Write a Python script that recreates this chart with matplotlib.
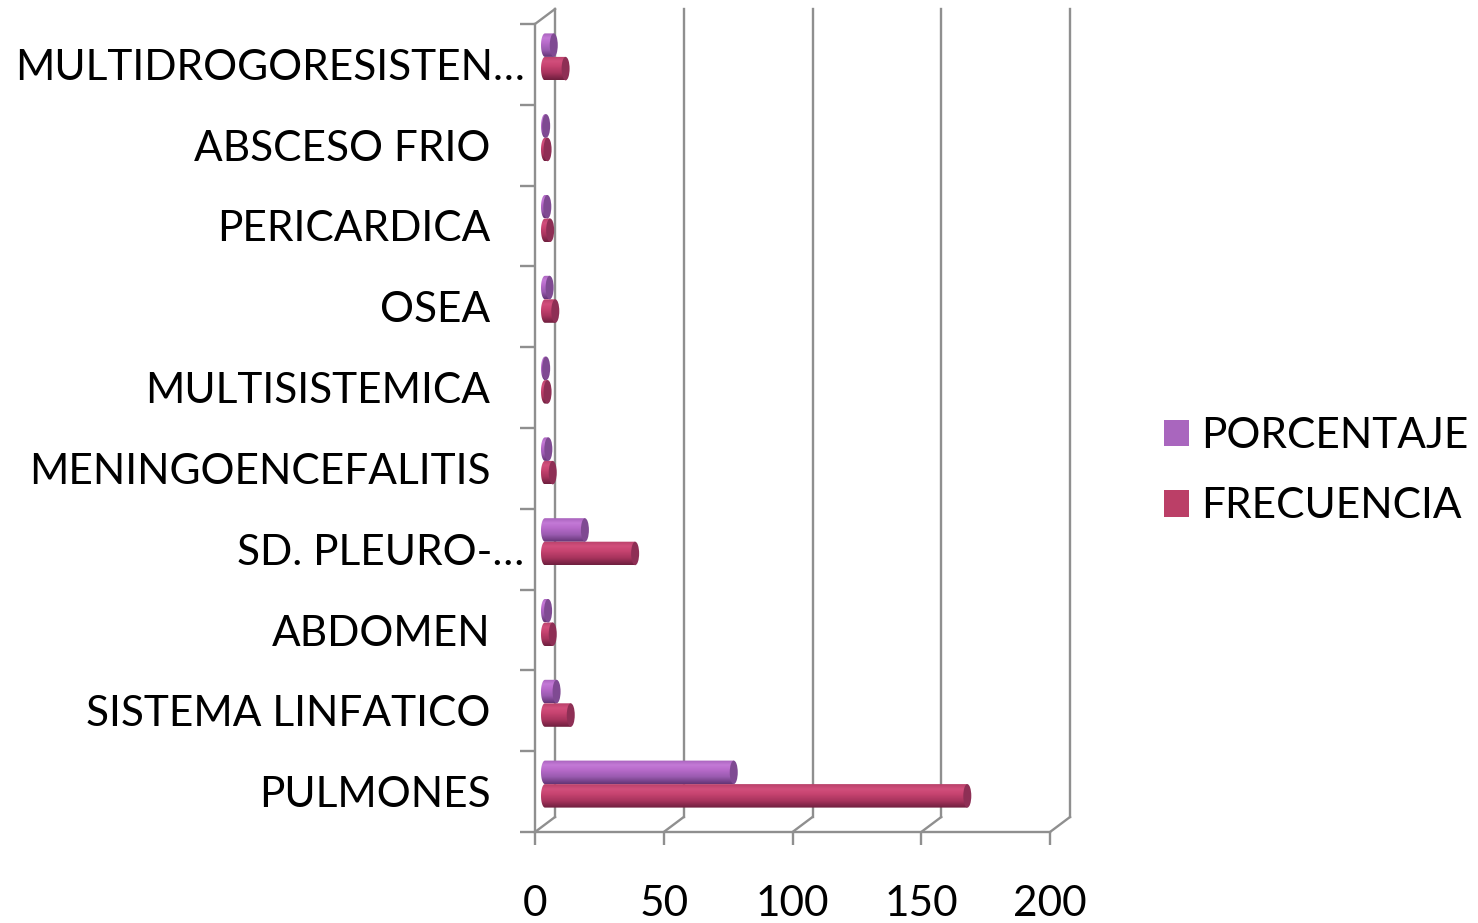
import numpy as np
import matplotlib
matplotlib.use("Agg")
import matplotlib.pyplot as plt
import matplotlib.transforms as mtransforms
from matplotlib.patches import Polygon, Ellipse, Patch
from matplotlib.colors import LinearSegmentedColormap

plt.rcParams['font.family'] = ['Lato', 'DejaVu Sans']

# categories listed bottom to top
categorias = ["PULMONES", "SISTEMA LINFATICO", "ABDOMEN", "SD. PLEURO-…",
              "MENINGOENCEFALITIS", "MULTISISTEMICA", "OSEA", "PERICARDICA",
              "ABSCESO FRIO", "MULTIDROGORESISTEN…"]
frecuencia = [164, 10, 3, 35, 3, 1, 4, 2, 1, 8]
porcentaje = [73.3, 4.5, 1.2, 15.5, 1.3, 0.45, 1.8, 0.9, 0.45, 3.4]
x_ticks = [0, 50, 100, 150, 200]

W, H = 1478, 923
fig = plt.figure(figsize=(W / 100, H / 100), dpi=100)
ax = fig.add_axes([535 / W, 1 - 832 / H, 515 / W, 808 / H])

XMAX = 200
NCAT = len(categorias)
pxx = 515 / XMAX          # pixels per x unit
pxy = 808 / NCAT          # pixels per category
DX = 20 / pxx             # depth of the 3d box
DY = 15 / pxy
grid = '#8f8f8f'
lw = 1.7

# back wall and floor
for v in x_ticks:
    ax.plot([v + DX, v + DX], [-0.5 + DY, NCAT - 0.5 + DY], color=grid, lw=lw, clip_on=False, zorder=1)
    ax.plot([v, v + DX], [-0.5, -0.5 + DY], color=grid, lw=lw, clip_on=False, zorder=1)
ax.plot([0, DX], [NCAT - 0.5, NCAT - 0.5 + DY], color=grid, lw=lw, clip_on=False, zorder=1)


def cylinder(x0, yc, length, h, cmap, cap):
    a = 4 / pxx
    top, bot = yc + h / 2, yc - h / 2
    th = np.linspace(np.pi / 2, 3 * np.pi / 2, 40)
    xs = np.r_[x0 + a * np.cos(th), x0 + length, x0 + length]
    ys = np.r_[yc + h / 2 * np.sin(th), bot, top]
    poly = Polygon(np.c_[xs, ys], closed=True, transform=ax.transData,
                   facecolor='none', edgecolor='none')
    grad = np.linspace(0, 1, 64).reshape(-1, 1)
    im = ax.imshow(grad, extent=(x0 - a, x0 + length, bot, top), origin='lower',
                   cmap=cmap, aspect='auto', zorder=3, interpolation='bicubic')
    im.set_clip_path(poly)
    ax.add_patch(Ellipse((x0 + length, yc), 2 * a, h, facecolor=cap,
                         edgecolor='none', zorder=4))


cmap_frec = LinearSegmentedColormap.from_list(
    'frec', [(0, '#6e1f3e'), (0.3, '#a8345d'), (0.6, '#c84471'), (0.8, '#d24f7c'), (1, '#b8406a')])
cmap_pct = LinearSegmentedColormap.from_list(
    'pct', [(0, '#633475'), (0.3, '#9a5bb0'), (0.6, '#b86bcb'), (0.8, '#c47ad7'), (1, '#a862bc')])

h = 23.5 / pxy
x0 = DX / 2
for i in range(NCAT):
    yc = i + DY / 2
    cylinder(x0, yc + h / 2, porcentaje[i], h, cmap_pct, '#7f4a92')
    cylinder(x0, yc - h / 2, frecuencia[i], h, cmap_frec, '#8e2f55')

ax.set_xlim(0, XMAX)
ax.set_ylim(-0.5, NCAT - 0.5)

for s in ['top', 'right']:
    ax.spines[s].set_visible(False)
for s in ['left', 'bottom']:
    ax.spines[s].set_color(grid)
    ax.spines[s].set_linewidth(lw)

fs = 30.5
ax.set_xticks(x_ticks)
ax.set_xticklabels([str(v) for v in x_ticks])
ax.tick_params(axis='x', length=9.4, width=lw, color=grid, pad=29, labelsize=fs)
ax.set_yticks(range(NCAT))
ax.set_yticklabels(categorias)
ax.tick_params(axis='y', which='major', length=0, pad=32, labelsize=fs)
ax.set_yticks(np.arange(-0.5, NCAT), minor=True)
ax.tick_params(axis='y', which='minor', length=11, width=lw, color=grid)

# truncated names run their ellipsis into the tick area
shift = mtransforms.ScaledTranslation(34 / 100, 0, fig.dpi_scale_trans)
for lab in ax.get_yticklabels():
    if lab.get_text().endswith('…'):
        lab.set_transform(lab.get_transform() + shift)

handles = [Patch(facecolor='#a966be', label='PORCENTAJE'),
           Patch(facecolor='#bb3f67', label='FRECUENCIA')]
ax.legend(handles=handles, loc='center left', bbox_to_anchor=(1164 / W, 1 - 471 / H),
          bbox_transform=fig.transFigure, frameon=False, fontsize=fs,
          handlelength=0.6, handleheight=0.6, handletextpad=0.28,
          labelspacing=0.76, borderpad=0, borderaxespad=0)

fig.savefig('out.png', dpi=100)
